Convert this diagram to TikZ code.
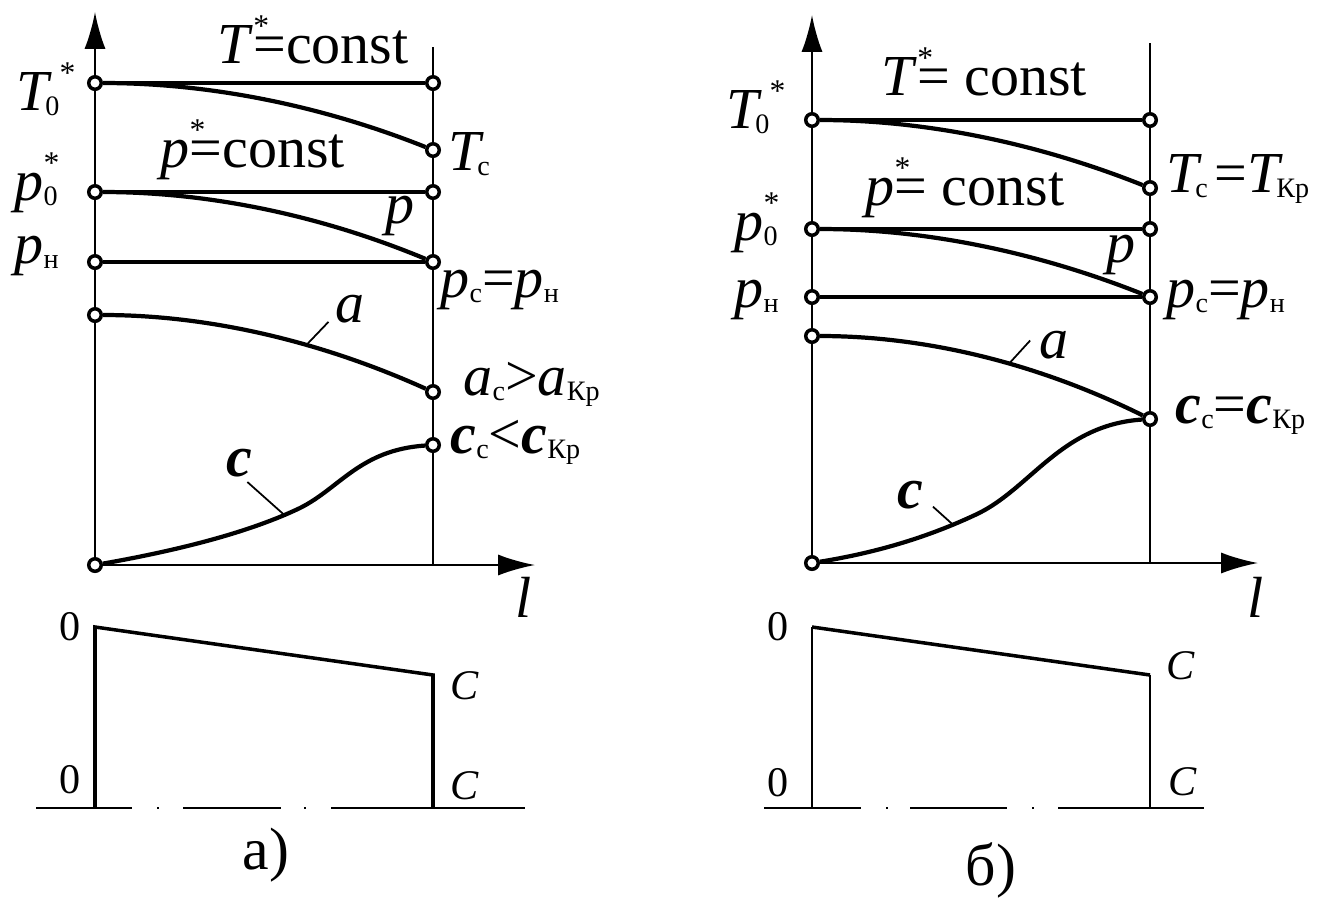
\documentclass[tikz,border=0pt]{standalone}
\usepackage{fontspec}
\setmainfont{Liberation Serif}
\usetikzlibrary{arrows.meta}
\newcommand{\dnx}[1]{\raisebox{-0.1em}{\fontsize{8}{8}\selectfont #1}}
\newcommand{\upx}[1]{\raisebox{0.45em}{\fontsize{9}{9}\selectfont #1}}
\newcommand{\bc}{\textbf{\textit{c}}}
\newcommand{\tT}{\textit{T}\kern-0.12em}

\begin{document}
\begin{tikzpicture}[x=0.01cm,y=-0.01cm,
  pt/.style={circle,draw,fill=white,line width=1pt,inner sep=0pt,minimum size=0.125cm},
  axis/.style={line width=0.6pt,-{Latex[length=10.5pt,width=6pt]}},
  curve/.style={line width=1.2pt},
  level/.style={line width=0.9pt},
  lead/.style={line width=0.5pt},
  txt/.style={font=\fontsize{16.5}{18}\selectfont,inner sep=0pt,anchor=base west},
  tag/.style={font=\fontsize{12}{14}\selectfont,inner sep=0pt},
  paneltitle/.style={font=\fontsize{17}{19}\selectfont,inner sep=0pt}]
\useasboundingbox (0,0) rectangle (1317,905);

\coordinate (Oa) at (95,565);
\coordinate (Ya) at (95,12);
\coordinate (Xa) at (535,565);
\coordinate (Ra) at (433,47);
\coordinate (Ea) at (433,565);
\draw[axis] (Oa) -- (Ya);
\draw[axis] (Oa) -- (Xa);
\draw[line width=0.6pt] (Ra) -- (Ea);
\node[pt] (T0a) at (95,83) {};
\node[pt] (T1a) at (433,83) {};
\node[pt] (Tca) at (433,150) {};
\node[pt] (p0a) at (95,192) {};
\node[pt] (p1a) at (433,192) {};
\node[pt] (pna) at (95,262) {};
\node[pt] (pca) at (433,262) {};
\node[pt] (a0a) at (95,315) {};
\node[pt] (aca) at (433,392) {};
\node[pt] (cca) at (433,445) {};
\node[pt] (c0a) at (Oa) {};
\draw[level] (T0a) -- (T1a);
\draw[level] (p0a) -- (p1a);
\draw[level] (pna) -- (pca);
\draw[curve] (T0a) .. controls (208,83) and (320,105) .. (Tca);
\draw[curve] (p0a) .. controls (208,192) and (320,215) .. (pca);
\draw[curve] (a0a) .. controls (208,315) and (320,341) .. (aca)
  coordinate[pos=0.63] (ata);
\draw[curve] (c0a) .. controls (180,550) and (250,532) .. (300,508)
  coordinate[pos=0.9] (cta) .. controls (340,488) and (360,450) .. (cca);
\draw[lead] (ata) -- +(22,-23);
\draw[lead] (cta) -- +(-37,-33);
\node[txt] (Tsa) at (217,63) {\textit{T}\rlap{\upx{*}}=const};
\node[txt] (psa) at (160,167) {\textit{p}\rlap{\upx{*}}=const};
\node[txt] (T0l) at (16,110) {\tT\dnx{0}\upx{*}};
\node[txt] (p0l) at (14,200) {\textit{p}\rlap{\upx{*}}\dnx{0}};
\node[txt] (pnl) at (14,263) {\textit{p}\dnx{н}};
\node[txt] (Tcl) at (448,170) {\tT\dnx{с}};
\node[txt] (pla) at (385,223) {\textit{p}};
\node[txt] (pcl) at (440,297) {\textit{p}\dnx{с}=\textit{p}\dnx{н}};
\node[txt] (acl) at (463,395) {\textit{a}\dnx{с}>\textit{a}\dnx{Кр}};
\node[txt] (ccl) at (450,453) {\bc\dnx{с}<\bc\dnx{Кр}};
\node[txt] (ala) at (335,322) {\textit{a}};
\node[txt] (cla) at (226,476) {\bc};
\node[txt] (lla) at (515,617) {\textit{l}};

\coordinate (B0a) at (95,808);
\coordinate (Bta) at (95,627);
\coordinate (Bca) at (433,675);
\coordinate (B1a) at (433,808);
\draw[line width=1pt] (B0a) -- (Bta) -- (Bca) -- (B1a);
\draw[line width=0.5pt] (36,808) -- (132,808) (157,808) -- (159,808)
  (183,808) -- (281,808) (304,808) -- (306,808) (331,808) -- (525,808);
\node[tag] (zta) at (70,627) {0};
\node[tag] (zba) at (70,780) {0};
\node[tag] (Cta) at (465,686) {\textit{C}};
\node[tag] (Cba) at (465,786) {\textit{C}};
\node[paneltitle] (capa) at (266,855) {а)};

\coordinate (Ob) at (812,563);
\coordinate (Yb) at (812,15);
\coordinate (Xb) at (1258,563);
\coordinate (Rb) at (1150,43);
\coordinate (Eb) at (1150,563);
\draw[axis] (Ob) -- (Yb);
\draw[axis] (Ob) -- (Xb);
\draw[line width=0.6pt] (Rb) -- (Eb);
\node[pt] (T0b) at (812,120) {};
\node[pt] (T1b) at (1150,120) {};
\node[pt] (Tcb) at (1150,188) {};
\node[pt] (p0b) at (812,229) {};
\node[pt] (p1b) at (1150,229) {};
\node[pt] (pnb) at (812,297) {};
\node[pt] (pcb) at (1150,297) {};
\node[pt] (a0b) at (812,336) {};
\node[pt] (ccb) at (1150,419) {};
\node[pt] (c0b) at (Ob) {};
\draw[level] (T0b) -- (T1b);
\draw[level] (p0b) -- (p1b);
\draw[level] (pnb) -- (pcb);
\draw[curve] (T0b) .. controls (925,120) and (1037,143) .. (Tcb);
\draw[curve] (p0b) .. controls (925,229) and (1037,252) .. (pcb);
\draw[curve] (a0b) .. controls (925,336) and (1037,363) .. (ccb)
  coordinate[pos=0.586] (atb);
\draw[curve] (c0b) .. controls (880,552) and (930,536) .. (975,515)
  coordinate[pos=0.84] (ctb) .. controls (1030,490) and (1060,425) .. (ccb);
\draw[lead] (atb) -- +(21,-23);
\draw[lead] (ctb) -- +(-20,-18);
\node[txt] (Tsb) at (881,95) {\textit{T}\rlap{\upx{*}}= const};
\node[txt] (psb) at (865,205) {\textit{p}\rlap{\upx{*}}= const};
\node[txt] (T0r) at (726,128) {\tT\dnx{0}\upx{*}};
\node[txt] (p0r) at (734,240) {\textit{p}\rlap{\upx{*}}\dnx{0}};
\node[txt] (pnr) at (734,307) {\textit{p}\dnx{н}};
\node[txt] (plb) at (1106,262) {\textit{p}};
\node[txt] (Tcr) at (1166,192) {\tT\dnx{с}\kern2pt=\tT\dnx{Кр}};
\node[txt] (pcr) at (1166,307) {\textit{p}\dnx{с}=\textit{p}\dnx{н}};
\node[txt] (ccr) at (1175,423) {\bc\dnx{с}=\bc\dnx{Кр}};
\node[txt] (alb) at (1039,358) {\textit{a}};
\node[txt] (clb) at (897,508) {\bc};
\node[txt] (llb) at (1247,617) {\textit{l}};

\coordinate (B0b) at (812,808);
\coordinate (Btb) at (812,627);
\coordinate (Bcb) at (1150,675);
\coordinate (B1b) at (1150,808);
\draw[line width=0.6pt] (B0b) -- (Btb) (Bcb) -- (B1b);
\draw[line width=1pt] (Btb) -- (Bcb);
\draw[line width=0.5pt] (764,808) -- (861,808) (886,808) -- (888,808)
  (910,808) -- (1007,808) (1032,808) -- (1034,808) (1058,808) -- (1204,808);
\node[tag] (ztb) at (778,627) {0};
\node[tag] (zbb) at (778,783) {0};
\node[tag] (Ctb) at (1181,666) {\textit{C}};
\node[tag] (Cbb) at (1183,782) {\textit{C}};
\node[paneltitle] (capb) at (991,870) {б)};
\end{tikzpicture}
\end{document}
